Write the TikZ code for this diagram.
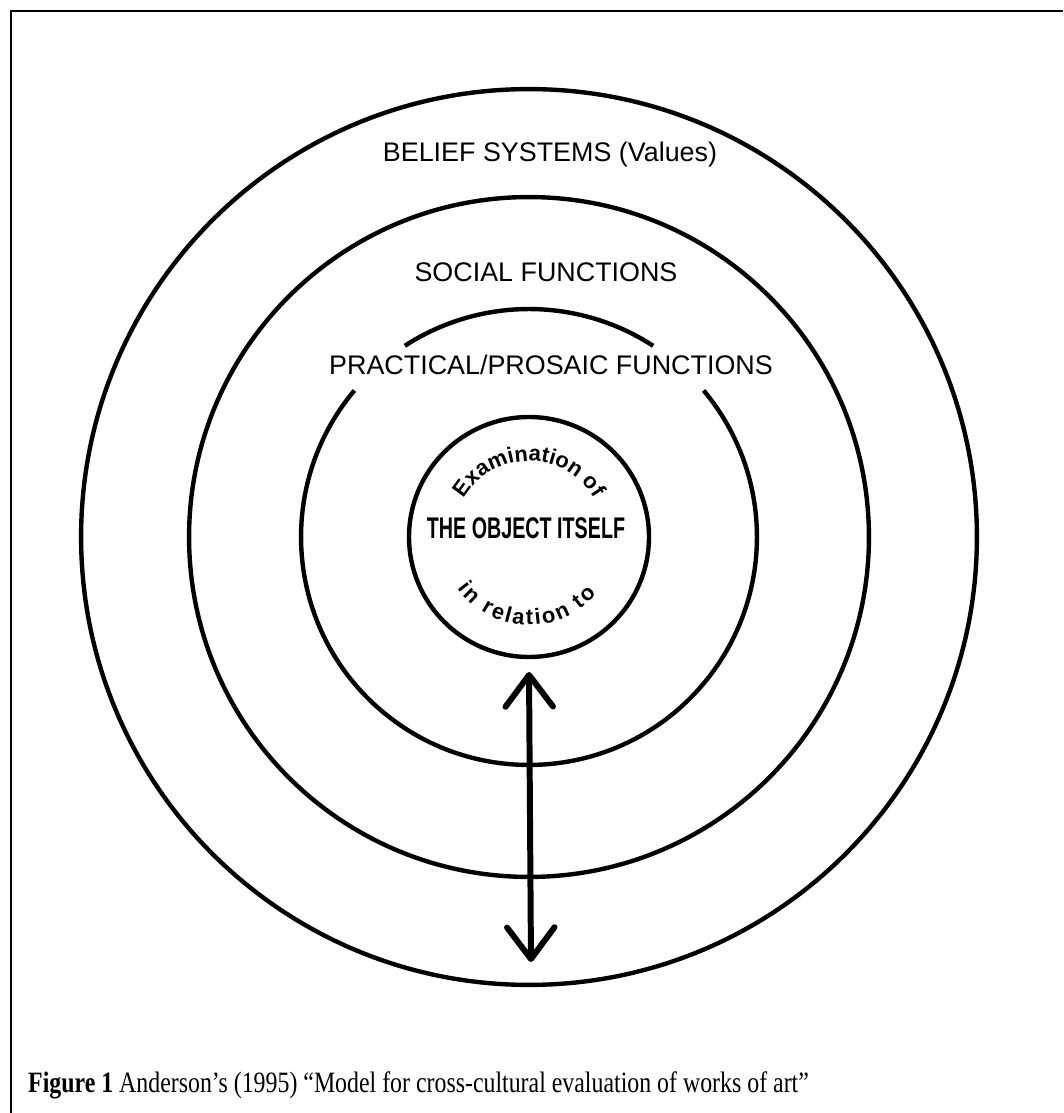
\documentclass[tikz,border=0pt]{standalone}
\usepackage{fontspec}
\setmainfont{Liberation Serif}
\setsansfont{Liberation Sans}
\usetikzlibrary{arrows.meta,decorations.text,positioning}
\newcommand{\curvefont}{\sffamily\bfseries\fontsize{12.5}{14}\selectfont}

\begin{document}
\begin{tikzpicture}
[x=0.02cm,y=0.02cm,
ring/.style={draw,circle,line width=2.5pt,inner sep=0pt},
layer/.style={font=\sffamily\fontsize{15.3}{18}\selectfont},
both ways/.style={line width=3.4pt,{Straight Barb[length=18pt,width=27pt,round]}-{Straight Barb[length=18pt,width=27pt,round]}}]
\useasboundingbox (0,0) rectangle (1063,1113);
\coordinate (c) at (529,576);
% frame
\draw[line width=1.5pt] (11,0) -- (11,1102) -- (1063,1102);
% rings
\node[ring,minimum size=17.92cm] (belief) at (c) {};
\node[ring,minimum size=13.6cm] (social) at (c) {};
\draw[line width=2.5pt] (c) ++(57:4.56cm) arc[start angle=57,end angle=123,radius=4.56cm];
\draw[line width=2.5pt] (c) ++(140:4.56cm) arc[start angle=140,end angle=400,radius=4.56cm];
\node[ring,minimum size=4.8cm] (object) at (c) {};
% labels
\node[layer] (beliefs) at (550,958) {BELIEF SYSTEMS (Values)};
\node[layer] (functions) at (546,841) {SOCIAL FUNCTIONS};
\node[layer] (practical) at (551,748) {PRACTICAL/PROSAIC FUNCTIONS};
\node[font=\sffamily\bfseries\fontsize{17}{19}\selectfont] (itself) at (526,585) {\scalebox{0.66}[1]{THE OBJECT ITSELF}};
\path[decorate,decoration={text along path,text align=center,text={|\curvefont|Examination of}}]
  (c) ++(148:1.52cm) arc[start angle=148,end angle=32,radius=1.52cm];
\path[decorate,decoration={text along path,text align={fit to path},text={|\curvefont|in relation to}}]
  (c) ++(216:1.76cm) arc[start angle=216,end angle=320,radius=1.76cm];
% arrow
\coordinate (up) at (529,441);
\coordinate (down) at (531,151);
\draw[both ways] (up) -- (down);
% caption
\node[anchor=west,font=\fontsize{14}{16}\selectfont] (caption) at (22,28)
  {\scalebox{0.97}[1.2]{\textbf{Figure 1} Anderson’s (1995) “Model for cross-cultural evaluation of works of art”}};
\end{tikzpicture}
\end{document}
